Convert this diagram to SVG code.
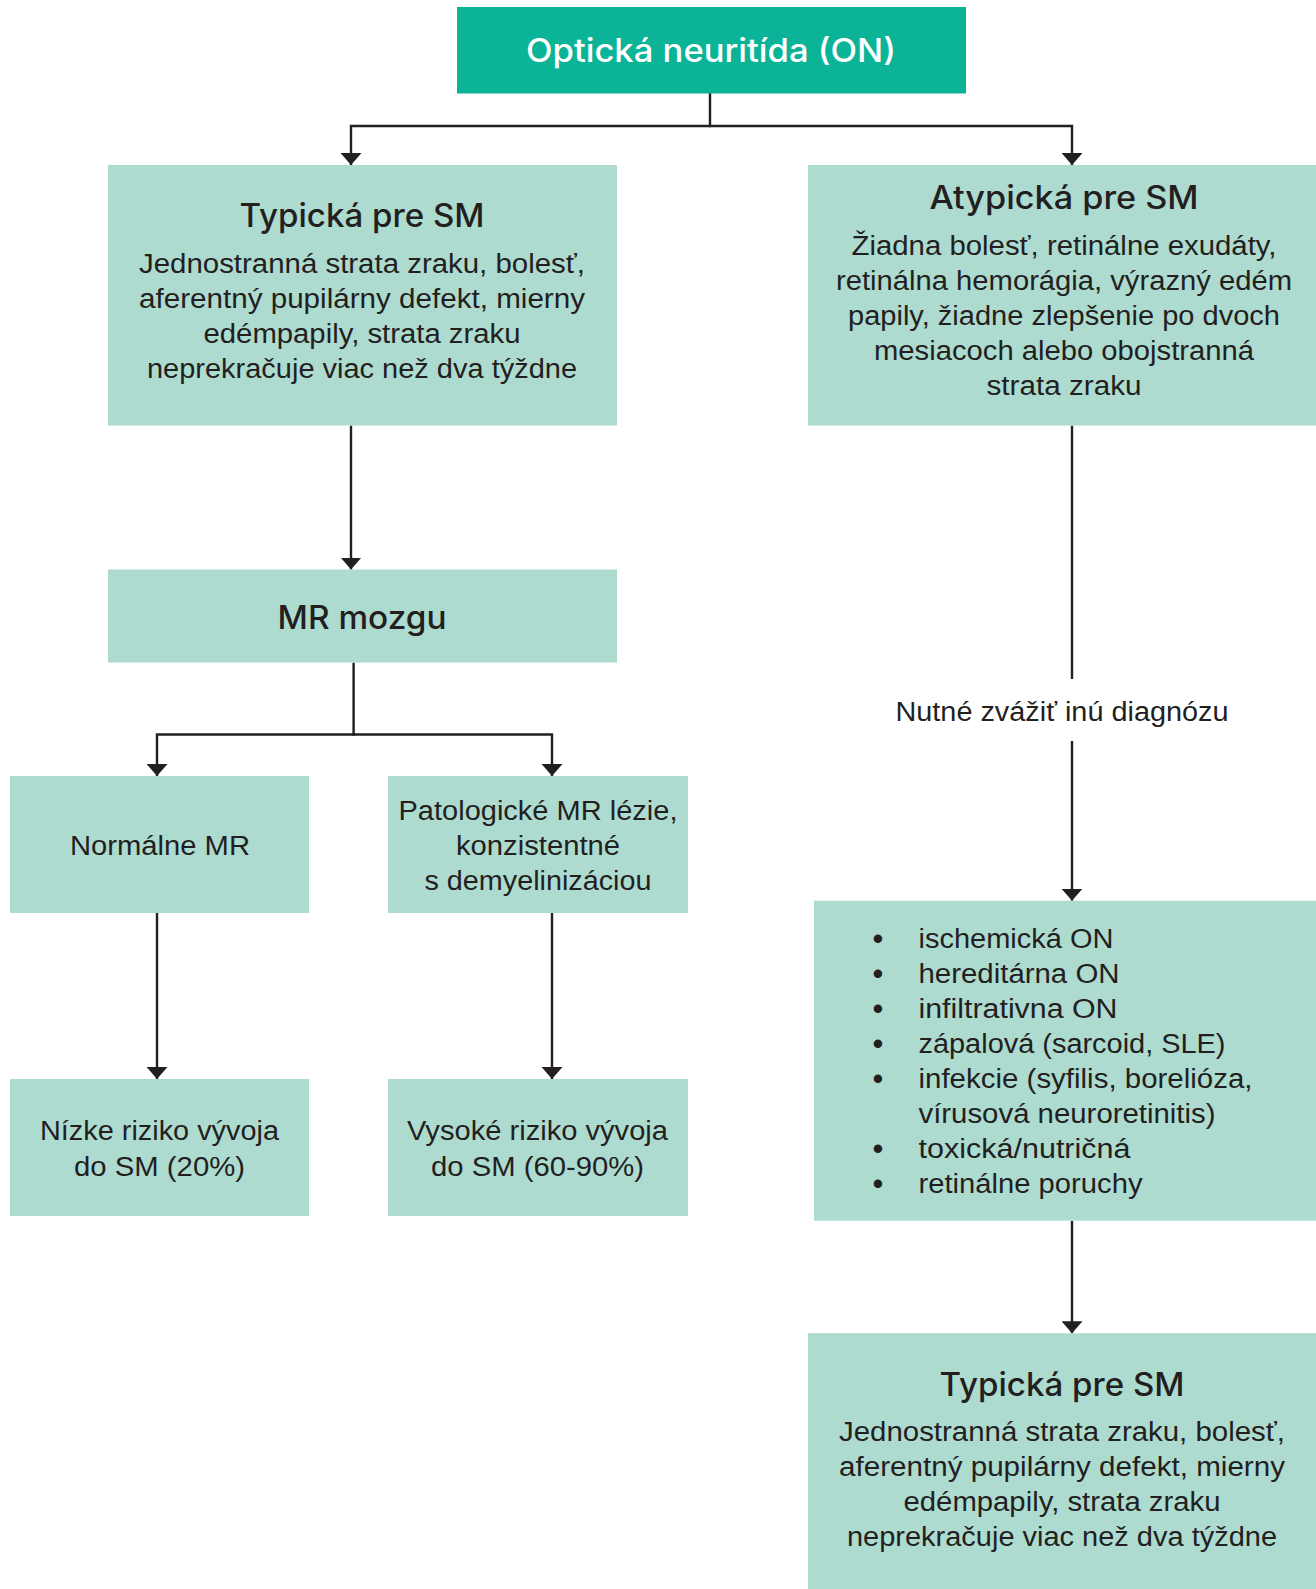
<svg xmlns="http://www.w3.org/2000/svg" width="1316" height="1589" viewBox="0 0 1316 1589">
<defs>
<style>
.bg{fill:#ffffff}
.dark{fill:#0bb496}
.light{fill:#addbd0}
.t{font-family:"Liberation Sans",Arial,sans-serif;fill:#231f20;text-anchor:middle}
.b{font-size:27px}
.h{font-family:"Inter","Liberation Sans",Arial,sans-serif;font-size:32px;font-weight:500}
.w{fill:#ffffff}
.l{text-anchor:start}
.d{font-size:31px}
.c{fill:none;stroke:#231f20;stroke-width:2.4}
.a{marker-end:url(#arr)}
</style>
<marker id="arr" markerUnits="userSpaceOnUse" markerWidth="12" markerHeight="21" refX="12" refY="10.5" orient="auto" viewBox="0 0 12 21">
<path d="M0,0 L12,10.5 L0,21 Z" fill="#231f20"/>
</marker>
</defs>
<rect class="bg" x="0" y="0" width="1316" height="1589"/>

<g id="connectors">
<path class="c" d="M710,93 V126"/>
<path class="c a" d="M711,126 H351 V165"/>
<path class="c a" d="M709,126 H1072 V165"/>
<path class="c a" d="M351,425.5 V569.5"/>
<path class="c" d="M353.6,662.6 V734.5"/>
<path class="c a" d="M354.8,734.5 H157 V776"/>
<path class="c a" d="M352.4,734.5 H552 V776"/>
<path class="c a" d="M157,913 V1079"/>
<path class="c a" d="M552,913 V1079"/>
<path class="c" d="M1072,425.5 V679"/>
<path class="c a" d="M1072,741 V900.7"/>
<path class="c a" d="M1072,1220.8 V1333.2"/>
<text class="t b" x="1062" y="721" textLength="333" lengthAdjust="spacingAndGlyphs">Nutné zvážiť inú diagnózu</text>
</g>

<g id="node-on">
<rect class="dark" x="457" y="7" width="509" height="86.5"/>
<text class="t h w" x="711" y="61.5" textLength="370" lengthAdjust="spacingAndGlyphs">Optická neuritída (ON)</text>
</g>

<g id="node-typicka">
<rect class="light" x="108" y="165" width="509" height="260.5"/>
<text class="t h" x="362" y="227" textLength="245" lengthAdjust="spacingAndGlyphs">Typická pre SM</text>
<text class="t b" x="362" y="273" textLength="446" lengthAdjust="spacingAndGlyphs">Jednostranná strata zraku, bolesť,</text>
<text class="t b" x="362" y="308" textLength="446" lengthAdjust="spacingAndGlyphs">aferentný pupilárny defekt, mierny</text>
<text class="t b" x="362" y="343" textLength="317" lengthAdjust="spacingAndGlyphs">edémpapily, strata zraku</text>
<text class="t b" x="362" y="378" textLength="430" lengthAdjust="spacingAndGlyphs">neprekračuje viac než dva týždne</text>
</g>

<g id="node-atypicka">
<rect class="light" x="808" y="165" width="510" height="260.5"/>
<text class="t h" x="1064" y="208.5" textLength="269" lengthAdjust="spacingAndGlyphs">Atypická pre SM</text>
<text class="t b" x="1064" y="255" textLength="425" lengthAdjust="spacingAndGlyphs">Žiadna bolesť, retinálne exudáty,</text>
<text class="t b" x="1064" y="290" textLength="456" lengthAdjust="spacingAndGlyphs">retinálna hemorágia, výrazný edém</text>
<text class="t b" x="1064" y="325" textLength="432" lengthAdjust="spacingAndGlyphs">papily, žiadne zlepšenie po dvoch</text>
<text class="t b" x="1064" y="360" textLength="380" lengthAdjust="spacingAndGlyphs">mesiacoch alebo obojstranná</text>
<text class="t b" x="1064" y="395" textLength="155" lengthAdjust="spacingAndGlyphs">strata zraku</text>
</g>

<g id="node-mr">
<rect class="light" x="108" y="569.5" width="509" height="93"/>
<text class="t h" x="362" y="629" textLength="169" lengthAdjust="spacingAndGlyphs">MR mozgu</text>
</g>

<g id="node-normalne">
<rect class="light" x="10" y="776" width="299" height="137"/>
<text class="t b" x="160" y="855" textLength="180" lengthAdjust="spacingAndGlyphs">Normálne MR</text>
</g>

<g id="node-patologicke">
<rect class="light" x="388" y="776" width="300" height="137"/>
<text class="t b" x="538" y="820" textLength="279" lengthAdjust="spacingAndGlyphs">Patologické MR lézie,</text>
<text class="t b" x="538" y="855" textLength="164" lengthAdjust="spacingAndGlyphs">konzistentné</text>
<text class="t b" x="538" y="890" textLength="227" lengthAdjust="spacingAndGlyphs">s demyelinizáciou</text>
</g>

<g id="node-nizke">
<rect class="light" x="10" y="1079" width="299" height="137"/>
<text class="t b" x="159.5" y="1140" textLength="239" lengthAdjust="spacingAndGlyphs">Nízke riziko vývoja</text>
<text class="t b" x="159.5" y="1175.5" textLength="171" lengthAdjust="spacingAndGlyphs">do SM (20%)</text>
</g>

<g id="node-vysoke">
<rect class="light" x="388" y="1079" width="300" height="137"/>
<text class="t b" x="537.5" y="1140" textLength="261" lengthAdjust="spacingAndGlyphs">Vysoké riziko vývoja</text>
<text class="t b" x="537.5" y="1175.5" textLength="213" lengthAdjust="spacingAndGlyphs">do SM (60-90%)</text>
</g>

<g id="node-ine">
<rect class="light" x="814" y="900.7" width="504" height="320"/>
<text class="t d" x="878" y="949">•</text>
<text class="t d" x="878" y="984">•</text>
<text class="t d" x="878" y="1019">•</text>
<text class="t d" x="878" y="1054">•</text>
<text class="t d" x="878" y="1089">•</text>
<text class="t d" x="878" y="1159">•</text>
<text class="t d" x="878" y="1194">•</text>
<text class="t b l" x="918.5" y="948" textLength="195" lengthAdjust="spacingAndGlyphs">ischemická ON</text>
<text class="t b l" x="918.5" y="983" textLength="201" lengthAdjust="spacingAndGlyphs">hereditárna ON</text>
<text class="t b l" x="918.5" y="1018" textLength="199" lengthAdjust="spacingAndGlyphs">infiltrativna ON</text>
<text class="t b l" x="918.5" y="1053" textLength="307" lengthAdjust="spacingAndGlyphs">zápalová (sarcoid, SLE)</text>
<text class="t b l" x="918.5" y="1088" textLength="334" lengthAdjust="spacingAndGlyphs">infekcie (syfilis, borelióza,</text>
<text class="t b l" x="918.5" y="1123" textLength="297" lengthAdjust="spacingAndGlyphs">vírusová neuroretinitis)</text>
<text class="t b l" x="918.5" y="1158" textLength="212" lengthAdjust="spacingAndGlyphs">toxická/nutričná</text>
<text class="t b l" x="918.5" y="1193" textLength="224" lengthAdjust="spacingAndGlyphs">retinálne poruchy</text>
</g>

<g id="node-typicka-2">
<rect class="light" x="808" y="1333.2" width="510" height="260"/>
<text class="t h" x="1062" y="1395.5" textLength="245" lengthAdjust="spacingAndGlyphs">Typická pre SM</text>
<text class="t b" x="1062" y="1441" textLength="446" lengthAdjust="spacingAndGlyphs">Jednostranná strata zraku, bolesť,</text>
<text class="t b" x="1062" y="1476" textLength="446" lengthAdjust="spacingAndGlyphs">aferentný pupilárny defekt, mierny</text>
<text class="t b" x="1062" y="1511" textLength="317" lengthAdjust="spacingAndGlyphs">edémpapily, strata zraku</text>
<text class="t b" x="1062" y="1546" textLength="430" lengthAdjust="spacingAndGlyphs">neprekračuje viac než dva týždne</text>
</g>
</svg>
